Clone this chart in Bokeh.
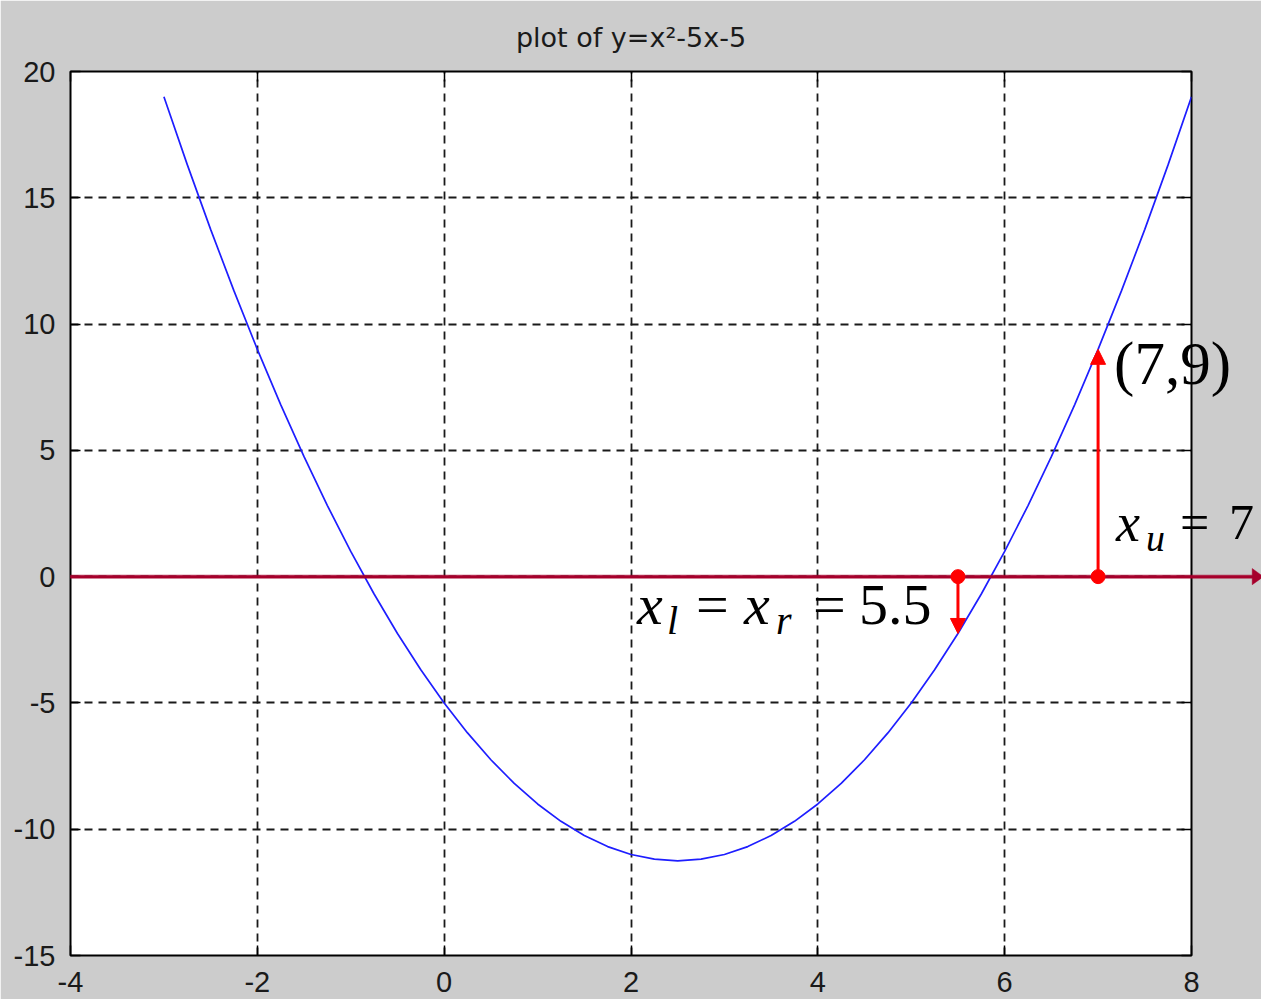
from bokeh.plotting import figure
from bokeh.models import (Arrow, NormalHead, LinearAxis, FixedTicker,
                          Range1d, ColumnDataSource)
from bokeh.embed import file_html
from bokeh.resources import INLINE
from bokeh.core.properties import value

# sampled curve y = x^2 - 5x - 5
x_vals = [-3.0, -2.75, -2.5, -2.25, -2.0, -1.75, -1.5, -1.25, -1.0, -0.75, -0.5, -0.25,
          0.0, 0.25, 0.5, 0.75, 1.0, 1.25, 1.5, 1.75, 2.0, 2.25, 2.5, 2.75, 3.0, 3.25,
          3.5, 3.75, 4.0, 4.25, 4.5, 4.75, 5.0, 5.25, 5.5, 5.75, 6.0, 6.25, 6.5, 6.75,
          7.0, 7.25, 7.5, 7.75, 8.0]
y_vals = [19.0, 16.3125, 13.75, 11.3125, 9.0, 6.8125, 4.75, 2.8125, 1.0, -0.6875, -2.25,
          -3.6875, -5.0, -6.1875, -7.25, -8.1875, -9.0, -9.6875, -10.25, -10.6875, -11.0,
          -11.1875, -11.25, -11.1875, -11.0, -10.6875, -10.25, -9.6875, -9.0, -8.1875,
          -7.25, -6.1875, -5.0, -3.6875, -2.25, -0.6875, 1.0, 2.8125, 4.75, 6.8125, 9.0,
          11.3125, 13.75, 16.3125, 19.0]

x_ticks = [-4, -2, 0, 2, 4, 6, 8]
y_ticks = [-15, -10, -5, 0, 5, 10, 15, 20]

# bracket points
x_lr = 5.5      # x_l = x_r
f_lr = -2.25    # f(5.5)
x_u = 7.0
f_u = 9.0

# horizontal axis arrow (data units)
axis_start = -4.0
axis_end = 8.77
shaft_half = 0.06
head_half = 0.32
head_len = 0.12

BLUE = "#1e1eff"
RED = "#ff0000"
DARK_RED = "#a6002c"
GREY = "#cccccc"

p = figure(width=1261, height=999, output_backend="svg", toolbar_location=None,
           x_range=Range1d(-4, 8), y_range=Range1d(-15, 20),
           min_border_left=70, min_border_right=70,
           min_border_top=71, min_border_bottom=44,
           background_fill_color="white", border_fill_color=GREY,
           outline_line_color="black", outline_line_width=2,
           title="plot of y=x\u00b2-5x-5")

p.title.align = "center"
p.title.text_font = "DejaVu Sans"
p.title.text_font_size = "27px"
p.title.text_font_style = "normal"
p.title.text_color = "#1a1a1a"
p.title.standoff = 37

def style_axis(ax, ticks, show_labels=True):
    ax.ticker = FixedTicker(ticks=ticks)
    ax.major_tick_in = 10
    ax.major_tick_out = 0
    ax.minor_tick_line_color = None
    ax.axis_line_color = None
    ax.major_tick_line_color = "black"
    ax.major_tick_line_width = 1.5
    ax.major_label_text_font = "Liberation Sans"
    ax.major_label_text_font_size = "29px"
    ax.major_label_text_color = "#1a1a1a"
    if show_labels:
        ax.major_label_overrides = {t: str(t) for t in ticks}
        ax.major_label_standoff = 15
    else:
        ax.major_label_overrides = {t: "" for t in ticks}
        ax.major_label_standoff = 0

style_axis(p.xaxis[0], x_ticks)
style_axis(p.yaxis[0], y_ticks)
p.xaxis[0].major_label_standoff = 16

top_ax = LinearAxis()
right_ax = LinearAxis()
style_axis(top_ax, x_ticks, show_labels=False)
style_axis(right_ax, y_ticks, show_labels=False)
p.add_layout(top_ax, "above")
p.add_layout(right_ax, "right")

for g in (p.xgrid[0], p.ygrid[0]):
    g.grid_line_color = "#1a1a1a"
    g.grid_line_dash = "8 6"
    g.grid_line_width = 1.8
p.xgrid[0].ticker = FixedTicker(ticks=x_ticks)
p.ygrid[0].ticker = FixedTicker(ticks=y_ticks)

# the parabola
src = ColumnDataSource(data=dict(x=x_vals, y=y_vals))
p.line("x", "y", source=src, line_color=BLUE, line_width=1.7)

# x axis arrow through y = 0, one polygon drawn above the frame so it runs past it
hb = axis_end - head_len
arrow_xs = [axis_start, hb, hb, axis_end, hb, hb, axis_start]
arrow_ys = [shaft_half, shaft_half, head_half, 0, -head_half, -shaft_half, -shaft_half]
p.patch(arrow_xs, arrow_ys, fill_color=DARK_RED, line_color=DARK_RED,
        line_width=0.5, level="overlay")

# function value arrows
p.add_layout(Arrow(x_start=x_u, y_start=0, x_end=x_u, y_end=f_u,
                   line_color=RED, line_width=3,
                   end=NormalHead(size=15, fill_color=RED, line_color=RED)))
p.add_layout(Arrow(x_start=x_lr, y_start=0, x_end=x_lr, y_end=f_lr,
                   line_color=RED, line_width=3,
                   end=NormalHead(size=15, fill_color=RED, line_color=RED)))

p.scatter([x_lr, x_u], [0, 0], size=14, fill_color=RED, line_color=RED,
          level="overlay")

def lab(x, y, text, dx, dy, size, italic=False):
    # dx, dy in screen pixels, dy positive upwards
    p.text(x=[x], y=[y], text=[text], x_offset=dx, y_offset=-dy,
           text_font=value("Liberation Serif"),
           text_font_style="italic" if italic else "normal",
           text_font_size=value(size), text_color="black",
           text_align="left", text_baseline="alphabetic", level="overlay")

# (7,9)
lab(x_u, f_u, "(7,9)", 16, -14, "61px")

# x_u = 7
lab(x_u, 0, "x", 18, 54, "54px", italic=True)
lab(x_u, 0, "u", 48, 39, "38px", italic=True)
lab(x_u, 0, "=", 82, 54, "52px")
lab(x_u, 0, "7", 131, 54, "50px")

# x_l = x_r = 5.5
lab(x_lr, 0, "x", -321, -28, "58px", italic=True)
lab(x_lr, 0, "l", -291, -44, "40px", italic=True)
lab(x_lr, 0, "=", -262, -28, "58px")
lab(x_lr, 0, "x", -214, -28, "58px", italic=True)
lab(x_lr, 0, "r", -182, -44, "40px", italic=True)
lab(x_lr, 0, "=", -145, -28, "58px")
lab(x_lr, 0, "5.5", -99, -28, "58px")

open("out.html", "w").write(file_html(p, INLINE))
